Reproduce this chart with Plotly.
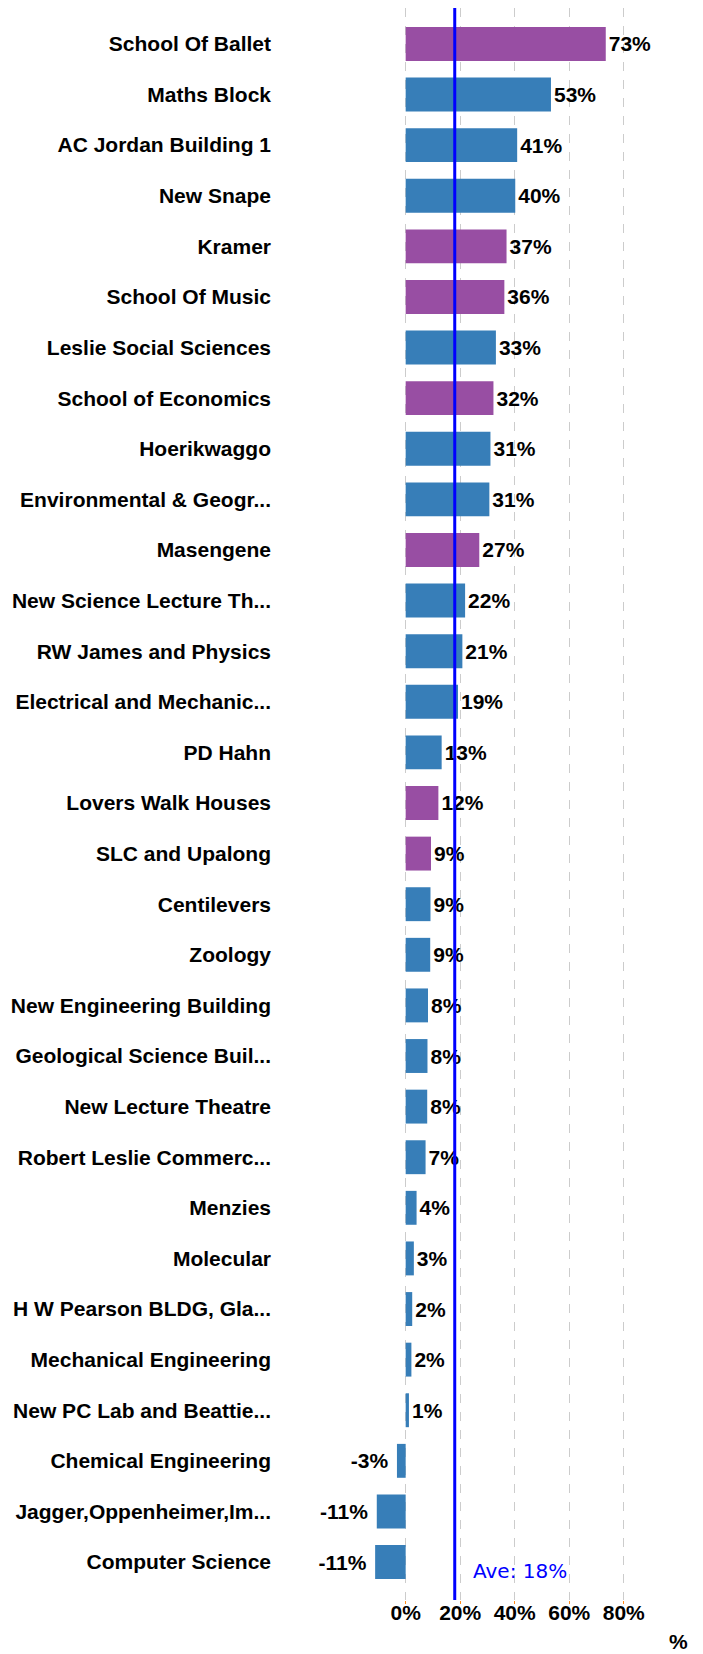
import plotly.graph_objects as go

buildings = [
    "School Of Ballet", "Maths Block", "AC Jordan Building 1", "New Snape", "Kramer",
    "School Of Music", "Leslie Social Sciences", "School of Economics", "Hoerikwaggo",
    "Environmental & Geogr...", "Masengene", "New Science Lecture Th...",
    "RW James and Physics", "Electrical and Mechanic...", "PD Hahn", "Lovers Walk Houses",
    "SLC and Upalong", "Centilevers", "Zoology", "New Engineering Building",
    "Geological Science Buil...", "New Lecture Theatre", "Robert Leslie Commerc...",
    "Menzies", "Molecular", "H W Pearson BLDG, Gla...", "Mechanical Engineering",
    "New PC Lab and Beattie...", "Chemical Engineering", "Jagger,Oppenheimer,Im...",
    "Computer Science",
]
change_pct = [73.4, 53.3, 40.9, 40.2, 37.0, 36.2, 33.1, 32.2, 31.1, 30.7, 27.0, 21.8,
              20.8, 19.2, 13.2, 12.0, 9.3, 9.1, 9.0, 8.2, 8.0, 7.9, 7.3, 4.0, 3.0,
              2.4, 2.1, 1.2, -3.2, -10.6, -11.2]
group = ["res", "acad", "acad", "acad", "res", "res", "acad", "res", "acad", "acad",
         "res", "acad", "acad", "acad", "acad", "res", "res", "acad", "acad", "acad",
         "acad", "acad", "acad", "acad", "acad", "acad", "acad", "acad", "acad", "acad",
         "acad"]
group_colors = {"res": "#984ea3", "acad": "#377eb8"}
average_pct = 18
x_ticks = [0, 20, 40, 60, 80]
x_tick_text = ["0%", "20%", "40%", "60%", "80%"]

FONT = "Liberation Sans, Arial, sans-serif"


def bar_label(v):
    s = f"{round(v):d}%"
    return s + "\u00a0" if v < 0 else s


fig = go.Figure()
fig.add_trace(go.Bar(
    y=buildings,
    x=change_pct,
    orientation="h",
    marker=dict(color=[group_colors[g] for g in group], line=dict(width=0)),
    width=0.67,
    text=[bar_label(v) for v in change_pct],
    textposition="outside",
    textfont=dict(family=FONT, size=21, color="black", weight="bold"),
    constraintext="none",
    cliponaxis=False,
    showlegend=False,
))

fig.add_shape(type="line", xref="x", yref="paper", x0=average_pct, x1=average_pct,
              y0=0, y1=1, line=dict(color="#0000ff", width=3))
fig.add_annotation(xref="x", yref="paper", x=average_pct, y=0, xanchor="left",
                   yanchor="middle", xshift=16, yshift=29, showarrow=False,
                   text=f"Ave: {average_pct}%",
                   font=dict(family="DejaVu Sans, sans-serif", size=20, color="#0000ff"))
fig.add_annotation(xref="paper", yref="paper", x=1, y=0, xanchor="right", yanchor="middle",
                   yshift=-41, xshift=-1, showarrow=False, text="%", borderpad=0,
                   font=dict(family=FONT, size=21, color="black", weight="bold"))

fig.update_layout(
    width=695, height=1646,
    margin=dict(l=272, r=13, t=0, b=54),
    plot_bgcolor="white", paper_bgcolor="white",
    bargap=0.33,
    xaxis=dict(
        range=[-46.1, 104.3],
        tickvals=x_ticks, ticktext=x_tick_text,
        showgrid=True, gridcolor="#cccccc", griddash="dash", gridwidth=1,
        zeroline=False, showline=False,
        ticks="outside", ticklen=3, tickcolor="#ff8c1a", tickwidth=1,
        ticklabelstandoff=-9,
        tickfont=dict(family=FONT, size=21, color="black", weight="bold"),
    ),
    yaxis=dict(
        categoryorder="array", categoryarray=buildings,
        range=[30.75, -0.71],
        showgrid=False, zeroline=False, showline=False, ticks="",
        ticklabelstandoff=8,
        tickfont=dict(family=FONT, size=21, color="black", weight="bold"),
    ),
)

fig.write_html("out.html")
